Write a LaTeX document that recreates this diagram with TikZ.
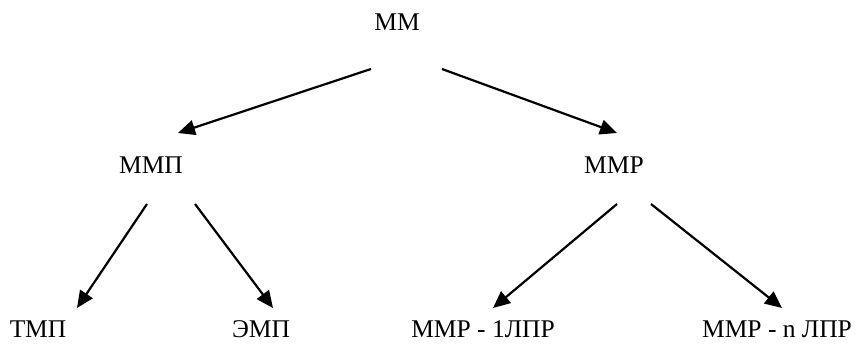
\documentclass[tikz,border=0pt]{standalone}
\usepackage{fontspec}
\setmainfont{Liberation Serif}
\usetikzlibrary{arrows.meta}
\begin{document}
\begin{tikzpicture}[x=1pt,y=-1pt,
  lbl/.style={inner sep=0pt,font=\fontsize{25.5}{30}\selectfont},
  arr/.style={line width=2.2pt,-{Triangle[length=17pt,width=15pt]}}]
\useasboundingbox (0,0) rectangle (859,345);
\node[lbl] (mm) at (397,22) {ММ};
\node[lbl] (mmp) at (151,165) {ММП};
\node[lbl] (mmr) at (614,165) {ММР};
\node[lbl] (tmp) at (38,329) {ТМП};
\node[lbl] (emp) at (261,329) {ЭМП};
\node[lbl] (mmr1) at (483,329) {ММР - 1ЛПР};
\node[lbl] (mmrn) at (777,329) {ММР - n ЛПР};
\coordinate (mmL) at (371,69);
\coordinate (mmR) at (442,69);
\coordinate (mmpIn) at (178,133);
\coordinate (mmrIn) at (617,133);
\coordinate (mmpL) at (147,204);
\coordinate (mmpR) at (195,204);
\coordinate (mmrL) at (617,204);
\coordinate (mmrR) at (651,204);
\coordinate (tmpIn) at (77,308);
\coordinate (empIn) at (273,308);
\coordinate (mmr1In) at (493,308);
\coordinate (mmrnIn) at (782,308);
\draw[arr] (mmL) -- (mmpIn);
\draw[arr] (mmR) -- (mmrIn);
\draw[arr] (mmpL) -- (tmpIn);
\draw[arr] (mmpR) -- (empIn);
\draw[arr] (mmrL) -- (mmr1In);
\draw[arr] (mmrR) -- (mmrnIn);
\end{tikzpicture}
\end{document}
